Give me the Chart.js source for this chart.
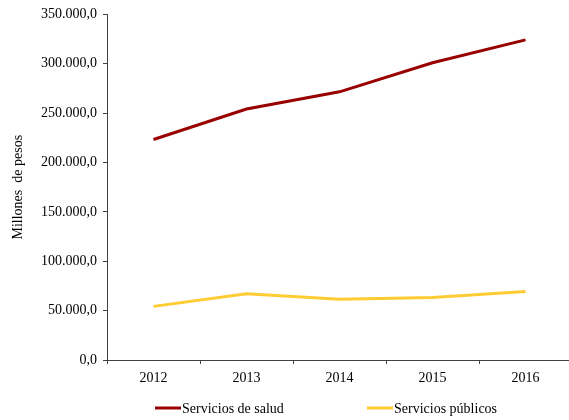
<!DOCTYPE html>
<html>
<head>
<meta charset="utf-8">
<script src="https://cdn.jsdelivr.net/npm/chart.js@4/dist/chart.umd.min.js"></script>
<style>
  html, body { margin: 0; padding: 0; background: #fff; overflow: hidden; }
  #wrap { width: 572px; height: 420px; }
</style>
</head>
<body>
<div id="wrap"><canvas id="myChart" width="572" height="420"></canvas></div>
<script>
// data
const years = ['2012', '2013', '2014', '2015', '2016'];
const salud = [223300, 254200, 271600, 301000, 324200];
const publicos = [54300, 67000, 61400, 63400, 69400];
const seriesNames = ['Servicios de salud', 'Servicios públicos'];
const seriesColors = ['#990000', '#FFCC33'];

const FONT = 'Liberation Serif';

function fmtEs(v) {
    // 350000 -> "350.000,0"
    const s = Math.round(v).toString().replace(/\B(?=(\d{3})+(?!\d))/g, '.');
    return s + ',0';
}

// simple legend drawn under the axis, like the original
const lineLegend = {
    id: 'lineLegend',
    afterDraw(chart) {
        const ctx = chart.ctx;
        const starts = [155, 367];
        const y = 408;
        ctx.save();
        ctx.font = '14px "' + FONT + '"';
        ctx.textBaseline = 'middle';
        ctx.fillStyle = '#000';
        chart.data.datasets.forEach((ds, i) => {
            ctx.strokeStyle = ds.borderColor;
            ctx.lineWidth = 3;
            ctx.beginPath();
            ctx.moveTo(starts[i], y);
            ctx.lineTo(starts[i] + 26, y);
            ctx.stroke();
            ctx.fillText(ds.label, starts[i] + 27, y + 1);
        });
        ctx.restore();
    }
};

new Chart('myChart', {
    type: 'line',
    data: {
        labels: years,
        datasets: [
            {
                label: seriesNames[0],
                data: salud,
                borderColor: seriesColors[0],
                backgroundColor: seriesColors[0],
                borderWidth: 3,
                pointRadius: 0,
                tension: 0
            },
            {
                label: seriesNames[1],
                data: publicos,
                borderColor: seriesColors[1],
                backgroundColor: seriesColors[1],
                borderWidth: 3,
                pointRadius: 0,
                tension: 0
            }
        ]
    },
    options: {
        responsive: false,
        animation: false,
        layout: { padding: { left: 0, right: 0, top: 12, bottom: 30 } },
        plugins: {
            legend: { display: false },
            tooltip: { enabled: false }
        },
        scales: {
            x: {
                offset: true,
                afterFit(scale) { scale.height = 30; },
                grid: {
                    offset: true,
                    drawOnChartArea: false,
                    drawTicks: true,
                    tickLength: 4,
                    color: '#404040'
                },
                border: { display: true, color: '#404040', width: 1 },
                ticks: {
                    padding: 6,
                    color: '#000',
                    font: { family: FONT, size: 14 },
                    maxRotation: 0
                }
            },
            y: {
                min: 0,
                max: 350000,
                afterFit(scale) { scale.width = 107; },
                grid: {
                    drawOnChartArea: false,
                    drawTicks: true,
                    tickLength: 4,
                    color: '#404040'
                },
                border: { display: true, color: '#404040', width: 1 },
                ticks: {
                    stepSize: 50000,
                    padding: 6,
                    color: '#000',
                    font: { family: FONT, size: 14 },
                    callback: (v) => v === 0 ? '0,0' : fmtEs(v)
                },
                title: {
                    display: true,
                    text: 'Millones  de pesos',
                    color: '#000',
                    font: { family: FONT, size: 14 },
                    padding: { top: 10, bottom: 0 }
                }
            }
        }
    },
    plugins: [lineLegend]
});
</script>
</body>
</html>
